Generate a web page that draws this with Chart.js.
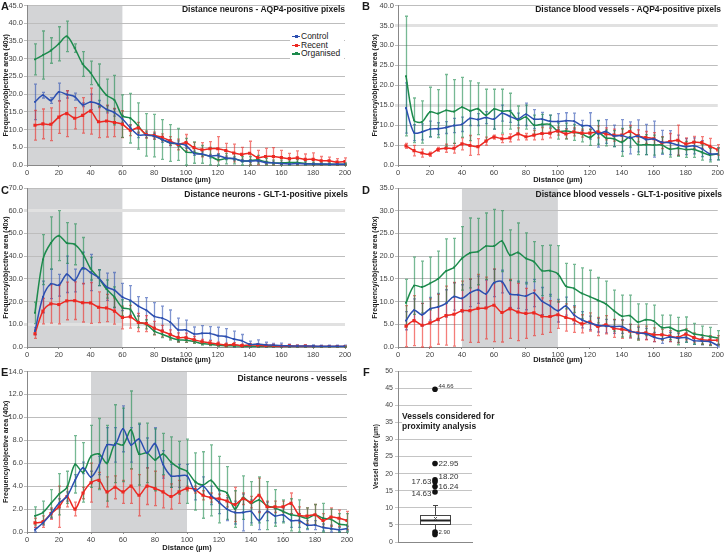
<!DOCTYPE html>
<html>
<head>
<meta charset="utf-8">
<script src="https://cdn.jsdelivr.net/npm/chart.js@4"></script>
<style>
  body { margin: 0; background: #fff; width: 725px; height: 552px; position: relative; overflow: hidden;
         font-family: "Liberation Sans", Arial, sans-serif; color: #1a1a1a; }
  canvas { position: absolute; }
  .letter { position: absolute; font-weight: bold; font-size: 11px; line-height: 11px; }
  .ptitle { position: absolute; font-weight: bold; font-size: 8.5px; line-height: 10px; text-align: right; white-space: nowrap; }
  #legend { position: absolute; left: 290px; top: 31px; width: 54px; background: #fff; font-size: 8.5px; line-height: 8.7px; padding: 1px 0; }
  #legend .row { position: relative; padding-left: 11px; white-space: nowrap; }
  #legend .sw { position: absolute; left: 2px; top: 4px; width: 8px; height: 1.3px; }
  #legend .mk { position: absolute; left: 4.5px; top: 3px; width: 3px; height: 3px; }
  #note { position: absolute; left: 402px; top: 412px; background: #fff; font-weight: bold; font-size: 8.5px; line-height: 9.7px; white-space: nowrap; }
</style>
</head>
<body>
<canvas id="chartA" width="360" height="184" style="left:0;top:0"></canvas>
<canvas id="chartB" width="365" height="184" style="left:360px;top:0"></canvas>
<canvas id="chartC" width="360" height="182" style="left:0;top:182px"></canvas>
<canvas id="chartD" width="365" height="182" style="left:360px;top:182px"></canvas>
<canvas id="chartE" width="360" height="186" style="left:0;top:366px"></canvas>
<canvas id="chartF" width="120" height="190" style="left:360px;top:362px"></canvas>

<div class="letter" style="left:1px;top:1px">A</div>
<div class="letter" style="left:362px;top:1px">B</div>
<div class="letter" style="left:1px;top:185px">C</div>
<div class="letter" style="left:362px;top:185px">D</div>
<div class="letter" style="left:1px;top:367px">E</div>
<div class="letter" style="left:363px;top:367px">F</div>

<div class="ptitle" style="right:380px;top:4px">Distance neurons - AQP4-positive pixels</div>
<div class="ptitle" style="right:4px;top:4px">Distance blood vessels - AQP4-positive pixels</div>
<div class="ptitle" style="right:377px;top:189px">Distance neurons - GLT-1-positive pixels</div>
<div class="ptitle" style="right:3px;top:189px">Distance blood vessels - GLT-1-positive pixels</div>
<div class="ptitle" style="right:378px;top:373px">Distance neurons - vessels</div>

<div id="legend"></div>
<div id="note">Vessels considered for<br>proximity analysis</div>

<script>
Chart.defaults.font.family = '"Liberation Sans", Arial, sans-serif';

// distance bins (µm)
const distances = [5, 10, 15, 20, 25, 30, 35, 40, 45, 50, 55, 60, 65, 70, 75, 80, 85, 90, 95, 100,
  105, 110, 115, 120, 125, 130, 135, 140, 145, 150, 155, 160, 165, 170, 175, 180, 185, 190, 195, 200];
const seriesNames = ['Control', 'Recent', 'Organised'];

// A - distance neurons, AQP4-positive pixels
const aControl = [17.8, 19.7, 18.2, 20.6, 19.9, 19.3, 17.0, 17.8, 17.2, 15.7, 14.8, 13.0, 10.5, 8.5, 8.5, 8.1, 7.2, 6.3, 6.0, 5.5,
  3.3, 3.1, 2.5, 2.7, 2.0, 1.8, 1.2, 1.1, 1.2, 0.7, 0.6, 0.4, 0.3, 0.4, 0.3, 0.3, 0.3, 0.2, 0.2, 0.2];
const aControlErr = [5.0, 0.8, 0.8, 2.5, 1.0, 1.0, 0.5, 2.2, 1.0, 1.0, 1.0, 1.0, 0.8, 0.8, 0.8, 0.8, 0.8, 0.8, 0.8, 0.8,
  0.6, 0.6, 0.5, 0.5, 0.5, 0.5, 0.4, 0.4, 0.4, 0.3, 0.3, 0.3, 0.2, 0.2, 0.2, 0.2, 0.2, 0.2, 0.2, 0.2];
const aRecent = [11.2, 11.6, 11.5, 13.5, 14.5, 13.2, 14.0, 15.2, 12.2, 12.4, 12.0, 11.5, 9.8, 10.5, 8.6, 8.3, 7.8, 6.8, 5.8, 6.3,
  4.9, 4.3, 4.6, 4.6, 4.1, 3.4, 3.0, 3.3, 2.1, 2.4, 2.4, 2.1, 1.8, 2.0, 1.6, 1.6, 1.2, 1.2, 0.8, 1.0];
const aRecentErr = [4.2, 4.2, 4.6, 4.6, 6.5, 3.0, 5.0, 6.5, 4.5, 4.5, 4.0, 3.8, 1.5, 1.5, 1.0, 1.0, 1.0, 1.2, 1.5, 2.3,
  1.5, 2.0, 2.0, 3.4, 2.0, 2.5, 2.0, 3.4, 2.0, 2.3, 2.5, 2.0, 1.5, 2.0, 1.5, 1.8, 1.2, 1.0, 1.0, 1.0];
const aOrganised = [29.8, 31.0, 32.3, 34.2, 36.3, 33.0, 28.5, 26.0, 22.5, 19.7, 18.3, 13.8, 13.2, 11.0, 8.5, 8.3, 7.2, 6.2, 5.8, 3.7,
  3.5, 3.0, 2.5, 1.5, 1.8, 1.8, 1.2, 1.2, 1.5, 0.9, 0.6, 0.6, 0.7, 0.7, 0.4, 0.3, 0.2, 0.2, 0.2, 0.2];
const aOrganisedErr = [4.4, 6.8, 3.6, 4.8, 4.3, 1.2, 3.5, 3.3, 6.0, 4.5, 7.0, 6.0, 7.0, 6.5, 6.0, 6.0, 5.6, 5.2, 4.5, 3.8,
  3.0, 2.5, 2.5, 1.5, 1.5, 1.5, 1.2, 1.2, 1.2, 1.0, 0.8, 0.8, 0.8, 0.8, 0.6, 0.5, 0.4, 0.4, 0.4, 0.4];

// B - distance blood vessels, AQP4-positive pixels
const bControl = [14.3, 8.1, 8.3, 9.0, 9.1, 9.4, 9.9, 10.2, 11.7, 11.4, 11.9, 11.5, 13.0, 12.2, 11.5, 12.7, 11.5, 11.5, 11.0, 10.9,
  11.1, 11.0, 9.9, 9.8, 7.8, 8.4, 7.3, 7.4, 6.8, 7.3, 6.4, 6.5, 5.7, 5.6, 5.0, 4.6, 4.8, 4.1, 2.8, 2.8];
const bControlErr = [6.3, 2.0, 2.0, 2.0, 1.5, 1.5, 1.8, 1.8, 1.8, 1.5, 1.5, 2.5, 2.0, 1.5, 1.5, 2.8, 2.4, 1.7, 1.5, 2.0,
  2.0, 2.0, 1.3, 3.3, 3.3, 3.0, 2.7, 4.0, 4.0, 4.0, 3.8, 4.5, 3.0, 3.0, 2.5, 2.0, 2.0, 2.0, 1.5, 1.5];
const bRecent = [4.8, 3.6, 3.0, 2.7, 3.9, 4.2, 4.2, 5.3, 4.9, 4.6, 6.0, 7.0, 6.6, 6.8, 7.8, 7.1, 7.5, 7.9, 8.0, 8.5,
  7.8, 8.3, 8.0, 8.0, 8.3, 7.8, 7.5, 7.5, 8.4, 7.3, 6.9, 6.6, 5.6, 5.9, 6.2, 5.3, 5.7, 5.6, 4.7, 3.8];
const bRecentErr = [0.6, 1.3, 1.0, 0.5, 0.5, 1.0, 1.2, 1.5, 2.5, 2.0, 1.0, 0.5, 1.0, 1.0, 1.5, 0.8, 1.2, 1.5, 1.2, 1.0,
  1.2, 1.0, 1.0, 1.0, 1.5, 1.5, 1.5, 1.5, 1.5, 1.5, 1.5, 1.5, 1.5, 2.0, 3.8, 1.5, 1.5, 1.5, 2.0, 1.3];
const bOrganised = [22.3, 11.2, 10.8, 13.3, 12.9, 13.7, 13.4, 14.5, 13.6, 14.1, 12.5, 14.0, 13.5, 13.5, 11.3, 12.0, 10.0, 10.2, 10.2, 8.5,
  8.5, 8.2, 7.8, 6.9, 8.2, 6.8, 6.6, 5.7, 7.0, 5.1, 5.1, 5.0, 5.0, 4.0, 4.2, 3.9, 3.9, 3.2, 2.5, 2.8];
const bOrganisedErr = [15.0, 5.6, 5.3, 6.2, 6.0, 9.0, 8.0, 7.5, 7.5, 6.5, 6.5, 5.0, 5.5, 4.5, 3.5, 3.0, 2.5, 2.5, 2.3, 2.0,
  2.0, 2.0, 2.0, 2.0, 3.0, 2.0, 2.0, 3.5, 2.5, 2.5, 2.5, 2.5, 2.0, 2.0, 2.0, 2.0, 2.0, 2.0, 1.7, 1.5];

// C - distance neurons, GLT-1-positive pixels
const cControl = [7.0, 22.0, 27.8, 27.2, 32.0, 29.3, 34.8, 32.8, 30.5, 26.5, 25.0, 22.0, 20.5, 18.0, 16.2, 13.5, 12.7, 11.0, 7.6, 7.5,
  5.8, 6.0, 6.0, 5.0, 4.6, 3.5, 2.8, 1.2, 1.3, 1.0, 0.8, 0.6, 0.5, 0.4, 0.4, 0.4, 0.3, 0.3, 0.3, 0.3];
const cControlErr = [1.5, 7.0, 6.5, 4.8, 8.0, 5.0, 7.0, 8.0, 3.5, 6.0, 7.8, 6.0, 6.5, 4.2, 5.5, 6.0, 5.3, 5.3, 5.1, 4.3,
  3.0, 3.4, 3.0, 3.7, 3.5, 3.5, 2.7, 1.4, 1.8, 1.1, 0.8, 1.1, 0.8, 0.5, 0.5, 0.5, 0.5, 0.5, 0.5, 0.5];
const cRecent = [5.8, 15.8, 19.0, 18.7, 20.3, 20.4, 19.5, 19.4, 17.5, 17.2, 15.8, 13.0, 13.3, 10.8, 10.3, 8.3, 7.0, 5.5, 4.2, 4.1,
  3.2, 2.3, 1.8, 1.3, 0.9, 1.1, 0.6, 0.9, 0.8, 0.6, 0.6, 0.3, 0.5, 0.3, 0.4, 0.2, 0.2, 0.2, 0.2, 0.2];
const cRecentErr = [2.0, 5.6, 8.5, 8.5, 8.3, 8.3, 8.5, 9.0, 6.8, 6.0, 5.7, 5.0, 5.0, 4.0, 3.5, 3.0, 2.5, 2.0, 2.0, 2.0,
  1.5, 1.0, 1.0, 0.8, 0.8, 0.8, 0.6, 0.6, 0.6, 0.5, 0.5, 0.4, 0.4, 0.4, 0.4, 0.3, 0.3, 0.3, 0.3, 0.3];
const cOrganised = [15.0, 38.5, 45.8, 49.0, 45.8, 45.2, 41.2, 34.5, 30.5, 25.5, 22.0, 17.3, 16.5, 11.0, 10.0, 7.0, 5.6, 4.2, 3.2, 3.0,
  2.4, 1.5, 1.2, 0.8, 0.6, 0.5, 0.4, 0.3, 0.2, 0.2, 0.2, 0.2, 0.1, 0.1, 0.1, 0.1, 0.1, 0.1, 0.1, 0.1];
const cOrganisedErr = [4.7, 11.0, 11.5, 11.0, 9.0, 9.0, 7.0, 5.0, 3.5, 4.0, 4.5, 3.5, 3.5, 2.5, 2.0, 1.5, 1.5, 1.2, 1.0, 1.0,
  0.8, 0.7, 0.6, 0.5, 0.5, 0.4, 0.4, 0.3, 0.3, 0.3, 0.3, 0.3, 0.2, 0.2, 0.2, 0.2, 0.2, 0.2, 0.2, 0.2];

// D - distance blood vessels, GLT-1-positive pixels
const dControl = [5.8, 8.1, 7.1, 8.4, 8.8, 9.6, 11.1, 10.7, 11.9, 12.6, 11.7, 14.1, 14.4, 11.7, 11.5, 11.2, 11.9, 10.1, 9.1, 8.0,
  9.0, 7.1, 6.0, 5.3, 4.8, 4.6, 4.5, 4.5, 3.5, 3.1, 2.9, 2.2, 1.8, 2.2, 2.0, 2.1, 1.4, 1.3, 1.2, 0.3];
const dControlErr = [2.0, 2.5, 2.5, 2.5, 3.0, 3.0, 3.0, 3.0, 3.0, 3.0, 3.0, 3.0, 2.5, 3.0, 3.0, 3.0, 3.0, 3.0, 2.5, 2.5,
  2.0, 2.0, 1.8, 1.5, 1.5, 1.5, 1.5, 1.5, 1.5, 1.2, 1.2, 1.0, 1.0, 1.0, 1.0, 1.0, 0.8, 0.8, 0.8, 0.3];
const dRecent = [4.6, 5.8, 4.8, 5.3, 6.1, 6.9, 7.2, 8.0, 8.0, 8.5, 8.6, 9.2, 7.6, 8.4, 7.7, 7.4, 7.5, 6.8, 6.7, 7.1,
  6.5, 6.0, 5.1, 5.5, 4.5, 4.9, 4.1, 3.9, 3.5, 3.1, 3.1, 2.7, 2.7, 2.4, 2.1, 2.8, 2.1, 1.6, 1.5, 1.5];
const dRecentErr = [4.5, 5.5, 4.8, 5.3, 5.5, 6.5, 7.0, 6.5, 7.0, 7.5, 6.8, 8.0, 6.5, 6.5, 6.3, 5.5, 5.0, 4.0, 3.5, 3.0,
  3.0, 2.8, 2.0, 2.0, 2.0, 2.0, 2.0, 2.0, 1.5, 1.5, 1.5, 1.5, 1.2, 1.2, 1.2, 1.2, 1.0, 1.0, 1.0, 1.0];
const dOrganised = [9.7, 13.5, 13.2, 14.0, 15.0, 16.7, 17.5, 19.5, 20.7, 21.0, 22.2, 22.2, 23.3, 20.2, 20.8, 19.5, 18.8, 16.8, 16.8, 16.1,
  13.4, 12.9, 11.8, 11.1, 10.3, 9.5, 8.0, 6.8, 6.9, 5.5, 6.0, 5.7, 4.3, 4.3, 3.5, 3.8, 2.9, 2.6, 2.3, 2.0];
const dOrganisedErr = [5.2, 6.3, 5.7, 5.8, 6.1, 7.1, 6.4, 7.0, 7.7, 7.3, 7.3, 8.1, 6.7, 5.6, 6.5, 5.6, 4.4, 5.5, 5.6, 6.2,
  5.0, 5.3, 5.6, 5.8, 5.0, 5.0, 4.5, 4.6, 4.5, 4.0, 3.5, 3.5, 2.7, 2.7, 3.0, 2.8, 2.3, 2.0, 2.0, 1.6];

// E - distance neurons to vessels
const eControl = [0.2, 0.8, 1.6, 2.5, 3.1, 4.5, 5.6, 4.8, 5.8, 7.6, 7.6, 9.0, 7.6, 8.1, 6.9, 7.7, 5.9, 4.9, 4.9, 4.9,
  3.6, 4.0, 3.2, 2.6, 2.0, 1.7, 1.7, 1.8, 1.0, 1.8, 1.4, 1.5, 1.0, 1.0, 0.6, 0.6, 0.4, 0.3, 0.2, 0.3];
const eControlErr = [0.2, 0.2, 0.4, 0.4, 0.4, 0.5, 0.5, 0.5, 0.8, 1.5, 1.5, 2.0, 1.5, 1.3, 1.3, 1.4, 1.2, 1.0, 1.0, 1.0,
  0.8, 0.8, 0.8, 1.0, 1.0, 1.0, 1.6, 1.0, 0.8, 0.8, 0.6, 0.6, 0.6, 0.6, 0.4, 0.4, 0.3, 0.3, 0.2, 0.2];
const eRecent = [0.8, 0.9, 1.6, 2.2, 3.1, 2.0, 3.4, 4.3, 4.5, 3.5, 3.9, 3.5, 4.0, 3.2, 4.0, 3.8, 3.5, 3.1, 3.5, 3.8,
  3.7, 3.2, 3.0, 2.9, 2.7, 2.4, 2.9, 2.6, 3.2, 2.2, 2.2, 2.2, 2.5, 1.5, 1.4, 1.5, 1.0, 1.3, 1.2, 1.0];
const eRecentErr = [0.4, 0.5, 0.5, 1.8, 0.9, 0.6, 0.5, 1.7, 0.7, 1.3, 1.0, 1.0, 1.5, 1.8, 1.6, 1.5, 1.4, 1.1, 1.0, 0.2,
  0.3, 0.4, 0.4, 0.4, 0.5, 1.5, 0.5, 0.5, 1.5, 0.5, 0.5, 0.5, 0.9, 0.7, 0.7, 0.9, 0.6, 0.8, 0.7, 0.8];
const eOrganised = [1.4, 1.7, 2.5, 3.3, 3.9, 5.9, 5.2, 6.6, 6.8, 6.0, 7.7, 7.6, 8.9, 6.8, 6.9, 6.3, 6.8, 6.1, 5.6, 5.3,
  4.4, 4.1, 4.5, 3.7, 3.4, 2.0, 3.0, 2.5, 2.8, 2.3, 2.1, 1.8, 1.5, 1.4, 1.2, 1.5, 1.2, 1.1, 0.7, 0.6];
const eOrganisedErr = [0.8, 1.0, 1.2, 1.8, 1.4, 2.5, 2.6, 2.7, 3.1, 3.3, 3.4, 3.2, 3.4, 2.7, 2.6, 2.7, 1.8, 2.2, 2.3, 2.8,
  2.5, 2.9, 3.1, 2.9, 2.3, 1.6, 1.9, 1.9, 2.0, 2.1, 1.6, 1.0, 1.4, 1.4, 0.9, 0.9, 1.3, 0.9, 0.9, 1.0];

// shaded distance ranges
const aShade = [0, 60];
const cShade = [0, 60];
const dShade = [40, 100];
const eShade = [40, 100];

// F - vessel diameters (box plot)
const fOutliers = [44.66, 22.95, 18.20, 17.63, 16.24, 14.63, 2.90, 2.20];
const fOutlierLabels = ['44.66', '22.95', '18.20', '17.63', '16.24', '14.63', '2.90', ''];
const fQ1 = 5.2, fMedian = 6.3, fQ3 = 7.8, fMean = 7.0, fWhiskerLow = 3.0, fWhiskerHigh = 10.9;

// styles
const colors = ['#2c4fb0', '#ec2822', '#1c8a4c'];
const barColors = ['rgba(44,79,176,0.6)', 'rgba(236,40,34,0.6)', 'rgba(28,138,76,0.6)'];
const labelSide = ['right', 'right', 'right', 'left', 'right', 'left', 'right', 'right'];
const labelDy = [-3, 0, -3, 0, 0, 2, 0, 0];
const labelSize = [6, 8, 8, 8, 8, 8, 6, 6];
// gridlines that look washed out (wide and pale) in the original figure
const bPaleTicks = [15, 35];
const cPaleTicks = [10, 60];

// grey shaded band behind the grid
function shadePlugin(range) {
  return {
    id: 'shade',
    beforeDraw(chart) {
      if (!range) return;
      const {ctx, chartArea} = chart;
      const x0 = chart.scales.x.getPixelForValue(range[0]);
      const x1 = chart.scales.x.getPixelForValue(range[1]);
      ctx.save();
      ctx.fillStyle = '#d3d4d6';
      ctx.fillRect(x0, chartArea.top, x1 - x0, chartArea.bottom - chartArea.top);
      ctx.restore();
    }
  };
}

// vertical error bars, drawn under the lines
const errorBars = {
  id: 'errorBars',
  beforeDatasetsDraw(chart) {
    const {ctx} = chart;
    const xs = chart.scales.x, ys = chart.scales.y;
    chart.data.datasets.forEach(ds => {
      if (!ds.errors) return;
      ctx.save();
      ctx.strokeStyle = ds.barColor;
      ctx.lineWidth = 1.3;
      ds.data.forEach((p, j) => {
        const e = ds.errors[j];
        const px = Math.round(xs.getPixelForValue(p.x)) + 0.5;
        const top = ys.getPixelForValue(p.y + e);
        const bot = ys.getPixelForValue(Math.max(0, p.y - e));
        ctx.beginPath();
        ctx.moveTo(px, top); ctx.lineTo(px, bot);
        ctx.moveTo(px - 1.5, top); ctx.lineTo(px + 1.5, top);
        ctx.moveTo(px - 1.5, bot); ctx.lineTo(px + 1.5, bot);
        ctx.stroke();
      });
      ctx.restore();
    });
  }
};

function lineChart(id, series, errs, ymax, ystep, shade, yWidth, xHeight, pad, yTitlePad, paleTicks) {
  const pale = paleTicks || [];
  const datasets = series.map((vals, i) => ({
    label: seriesNames[i],
    data: distances.map((d, j) => ({x: d, y: vals[j]})),
    errors: errs[i],
    barColor: barColors[i],
    borderColor: colors[i],
    backgroundColor: colors[i],
    borderWidth: 1.5,
    tension: 0.3,
    pointStyle: 'rect',
    pointRadius: i === 1 ? 2.2 : 1.3,
    pointBorderWidth: 0
  }));
  return new Chart(document.getElementById(id), {
    type: 'line',
    data: {datasets},
    options: {
      responsive: false,
      animation: false,
      devicePixelRatio: 1,
      layout: {padding: pad},
      plugins: {legend: {display: false}, tooltip: {enabled: false}},
      scales: {
        x: {
          type: 'linear', min: 0, max: 200,
          ticks: {stepSize: 20, autoSkip: false, maxRotation: 0, padding: 1, color: '#444', font: {size: 7.5}},
          grid: {drawOnChartArea: false, tickLength: 2, color: '#888'},
          border: {color: '#888'},
          title: {display: true, text: 'Distance (µm)', color: '#1a1a1a', padding: 0, font: {size: 7.5, weight: 'bold'}},
          afterFit: s => { s.height = xHeight; }
        },
        y: {
          min: 0, max: ymax,
          ticks: {stepSize: ystep, padding: 1, color: '#444', font: {size: 7.5}, callback: v => v.toFixed(1)},
          grid: {
            tickLength: 3,
            color: c => pale.includes(c.tick && c.tick.value) ? '#e1e1e1' : '#bdbdbd',
            lineWidth: c => pale.includes(c.tick && c.tick.value) ? 3 : 1
          },
          border: {color: '#888'},
          title: {display: true, text: 'Frequency/objective area (40x)', color: '#1a1a1a',
                  padding: {top: yTitlePad, bottom: 0}, font: {size: 7, weight: 'bold'}},
          afterFit: s => { s.width = yWidth; }
        }
      }
    },
    plugins: [shadePlugin(shade), errorBars]
  });
}

lineChart('chartA', [aControl, aRecent, aOrganised], [aControlErr, aRecentErr, aOrganisedErr], 45, 5, aShade,
  27, 19, {top: 4, right: 15, bottom: 0, left: 0}, 2);
lineChart('chartB', [bControl, bRecent, bOrganised], [bControlErr, bRecentErr, bOrganisedErr], 40, 5, null,
  38, 19, {top: 4, right: 7, bottom: 0, left: 0}, 11, bPaleTicks);
lineChart('chartC', [cControl, cRecent, cOrganised], [cControlErr, cRecentErr, cOrganisedErr], 70, 10, cShade,
  27, 17, {top: 6, right: 15, bottom: 0, left: 0}, 2, cPaleTicks);
lineChart('chartD', [dControl, dRecent, dOrganised], [dControlErr, dRecentErr, dOrganisedErr], 35, 5, dShade,
  38, 17, {top: 6, right: 7, bottom: 0, left: 0}, 11);
lineChart('chartE', [eControl, eRecent, eOrganised], [eControlErr, eRecentErr, eOrganisedErr], 14, 2, eShade,
  27, 20, {top: 5, right: 13, bottom: 0, left: 0}, 2);

// box, whiskers and mean mark for panel F
const boxPlugin = {
  id: 'box',
  beforeDatasetsDraw(chart) {
    const {ctx} = chart;
    const xs = chart.scales.x, ys = chart.scales.y;
    const cx = Math.round(xs.getPixelForValue(1)) + 0.5;
    const half = Math.round((xs.getPixelForValue(1.4) - xs.getPixelForValue(0.6)) / 2);
    const y = v => Math.round(ys.getPixelForValue(v)) + 0.5;
    ctx.save();
    ctx.strokeStyle = '#444';
    ctx.lineWidth = 1;
    ctx.beginPath();
    ctx.moveTo(cx, y(fWhiskerHigh)); ctx.lineTo(cx, y(fQ3));
    ctx.moveTo(cx, y(fQ1)); ctx.lineTo(cx, y(fWhiskerLow));
    ctx.moveTo(cx - 2.5, y(fWhiskerHigh)); ctx.lineTo(cx + 2.5, y(fWhiskerHigh));
    ctx.moveTo(cx - 2.5, y(fWhiskerLow)); ctx.lineTo(cx + 2.5, y(fWhiskerLow));
    ctx.stroke();
    ctx.fillStyle = '#fff';
    ctx.fillRect(cx - half, y(fQ3), half * 2, y(fQ1) - y(fQ3));
    ctx.strokeRect(cx - half, y(fQ3), half * 2, y(fQ1) - y(fQ3));
    ctx.lineWidth = 2;
    ctx.strokeStyle = '#222';
    ctx.beginPath();
    ctx.moveTo(cx - half, y(fMedian)); ctx.lineTo(cx + half, y(fMedian));
    ctx.stroke();
    ctx.lineWidth = 1;
    ctx.strokeStyle = '#555';
    const my = y(fMean);
    ctx.beginPath();
    ctx.moveTo(cx - 1.5, my - 1.5); ctx.lineTo(cx + 1.5, my + 1.5);
    ctx.moveTo(cx + 1.5, my - 1.5); ctx.lineTo(cx - 1.5, my + 1.5);
    ctx.stroke();
    ctx.restore();
  },
  afterDatasetsDraw(chart) {
    const {ctx} = chart;
    const xs = chart.scales.x, ys = chart.scales.y;
    const cx = xs.getPixelForValue(1);
    ctx.save();
    ctx.fillStyle = '#333';
    ctx.textBaseline = 'middle';
    fOutliers.forEach((v, i) => {
      if (!fOutlierLabels[i]) return;
      ctx.font = labelSize[i] + 'px "Liberation Sans", Arial, sans-serif';
      const left = labelSide[i] === 'left';
      ctx.textAlign = left ? 'right' : 'left';
      ctx.fillText(fOutlierLabels[i], cx + (left ? -3.5 : 3.5), ys.getPixelForValue(v) + labelDy[i]);
    });
    ctx.restore();
  }
};

new Chart(document.getElementById('chartF'), {
  type: 'scatter',
  data: {datasets: [{
    data: fOutliers.map(v => ({x: 1, y: v})),
    backgroundColor: '#111',
    pointRadius: 2.8,
    pointBorderWidth: 0
  }]},
  options: {
    responsive: false,
    animation: false,
    devicePixelRatio: 1,
    layout: {padding: {top: 9, right: 8, bottom: 0, left: 0}},
    plugins: {legend: {display: false}, tooltip: {enabled: false}},
    scales: {
      x: {
        min: 0, max: 2,
        ticks: {display: false},
        grid: {display: false},
        border: {color: '#888'},
        afterFit: s => { s.height = 10; }
      },
      y: {
        min: 0, max: 50,
        ticks: {stepSize: 5, padding: 2, color: '#444', font: {size: 7}},
        grid: {color: '#c4c4c4', tickLength: 3},
        border: {color: '#888'},
        title: {display: true, text: 'Vessel diameter (µm)', color: '#1a1a1a',
                padding: {top: 12, bottom: 0}, font: {size: 6.5, weight: 'bold'}},
        afterFit: s => { s.width = 38; }
      }
    }
  },
  plugins: [boxPlugin]
});

// legend for panel A
const legend = document.getElementById('legend');
seriesNames.forEach((name, i) => {
  const row = document.createElement('div');
  row.className = 'row';
  row.innerHTML = `<span class="sw" style="background:${colors[i]}"></span><span class="mk" style="background:${colors[i]}"></span>${name}`;
  legend.appendChild(row);
});
</script>
</body>
</html>
